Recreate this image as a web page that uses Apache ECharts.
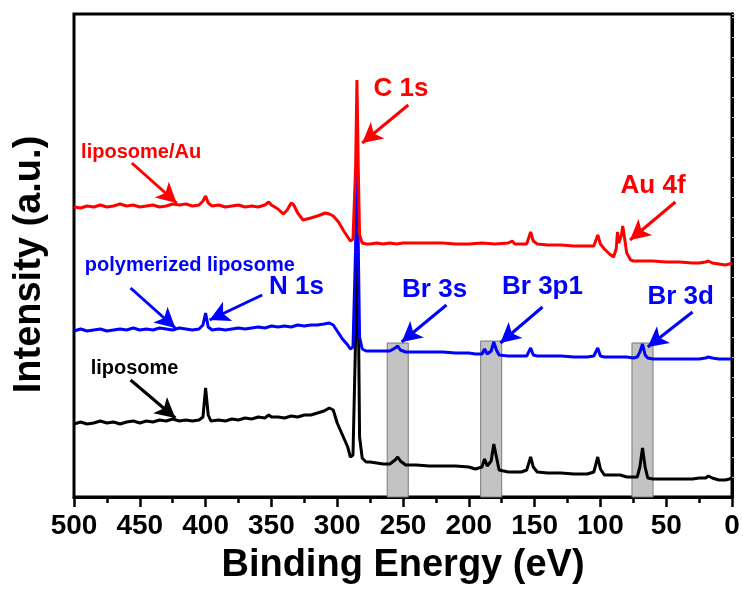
<!DOCTYPE html>
<html>
<head>
<meta charset="utf-8">
<script src="https://cdn.jsdelivr.net/npm/echarts@6/dist/echarts.min.js"></script>
<style>
  html, body { margin: 0; padding: 0; background: #fff; }
  #box { width: 743px; height: 591px; }
</style>
</head>
<body>
<div id="box"></div>
<script>
// binding energy (eV), intensity (a.u., arbitrary offset scale)
var liposome = [
  [500,73],[495,75],[490,73],[485,74],[480,76],[475,74],[470,75],[465,73],[460,75],[455,76],
  [450,74],[445,76],[440,75],[435,77],[430,76],[425,78],[420,76],[415,77],[410,76],[405,77],
  [402,80],[400,109],[398,82],[396,76],[390,77],[385,76],[380,78],[375,77],[370,79],[365,78],
  [360,80],[355,79],[352,82],[350,80],[345,80],[340,79],[335,81],[330,80],[325,82],[320,82],
  [315,84],[310,86],[306,89],[303,87],[300,74],[296,62],[292,50],[290,40],[288,42],[286,160],
  [285,327],[284,200],[283,60],[281,39],[278,35],[275,35],[270,34],[265,33],[260,33],[256,37],
  [254,40],[252,36],[248,32],[240,32],[230,31],[220,31],[210,31],[200,30],[195,28],[190,30],
  [188,38],[186,31],[183,36],[181,53],[179,40],[177,27],[170,25],[165,25],[160,25],[156,27],
  [153,40],[151,30],[148,25],[140,24],[130,24],[120,23],[110,23],[105,25],[102,40],[100,28],
  [97,22],[90,22],[85,22],[80,20],[75,20],[72,20],[70,30],[68,49],[66,30],[64,19],
  [60,18],[50,18],[40,18],[30,18],[25,19],[20,19],[18,21],[15,19],[10,17],[5,17],[2,18],[0,19]
];
var polymerized = [
  [500,166],[495,168],[490,166],[485,167],[480,168],[475,166],[470,167],[465,168],[460,167],[455,169],
  [450,167],[445,168],[440,167],[435,169],[430,168],[425,167],[420,169],[415,168],[410,167],[405,168],
  [402,172],[400,184],[398,170],[395,167],[390,168],[385,167],[380,168],[375,169],[370,168],[365,169],
  [360,170],[355,169],[350,171],[345,170],[340,171],[335,170],[330,172],[325,171],[320,172],[315,172],
  [310,173],[306,174],[303,172],[300,166],[296,158],[292,152],[290,148],[288,150],[286,250],[285,340],
  [284,250],[283,160],[281,148],[278,146],[275,146],[270,146],[265,146],[260,146],[256,149],[254,151],
  [252,147],[248,145],[240,145],[230,145],[220,145],[210,144],[200,144],[195,143],[190,143],[188,148],
  [186,143],[183,146],[181,155],[179,147],[177,142],[170,141],[165,141],[160,141],[156,141],[153,149],
  [151,142],[148,141],[140,141],[130,141],[120,140],[110,140],[105,141],[102,149],[100,141],[97,140],
  [90,140],[85,140],[80,140],[75,139],[72,140],[70,145],[68,153],[66,142],[64,139],[60,138],
  [50,138],[40,138],[30,138],[25,138],[20,139],[18,140],[15,139],[10,138],[5,138],[2,138],[0,138]
];
var liposomeAu = [
  [500,290],[495,289],[490,291],[485,290],[480,292],[475,290],[470,291],[465,293],[460,291],[455,292],
  [450,290],[445,291],[440,292],[435,290],[430,291],[425,293],[420,292],[415,293],[410,291],[405,292],
  [402,296],[400,301],[398,294],[395,291],[390,292],[385,290],[380,291],[375,292],[370,290],[365,291],
  [360,290],[355,292],[352,295],[350,292],[345,288],[341,283],[338,287],[335,294],[333,292],[330,284],
  [326,277],[320,279],[315,281],[309,284],[306,283],[303,281],[299,275],[295,266],[292,260],[290,256],
  [288,258],[286,330],[285,417],[284,330],[283,262],[281,254],[278,253],[275,253],[270,254],[265,253],
  [260,254],[255,253],[250,254],[240,254],[230,254],[220,254],[210,253],[200,253],[190,254],[180,253],
  [170,254],[167,256],[165,253],[160,253],[156,253],[153,265],[151,256],[148,253],[140,252],[130,252],
  [120,251],[110,251],[105,251],[102,262],[100,253],[97,248],[93,243],[90,240],[88,248],[87,265],
  [86,254],[84,262],[83,271],[82,262],[80,244],[77,237],[75,236],[70,236],[60,236],[50,235],
  [40,235],[30,234],[25,234],[20,235],[18,236],[15,234],[10,233],[5,232],[2,233],[0,234]
];
// Br regions (eV range, top of shaded box)
var brBands = [[262, 246, 154], [191, 175, 156], [76, 60, 154]];
// annotation text: [text, labelE, labelI, arrowFromE, arrowFromI, arrowToE, arrowToI]
var notesAu = [
  ['liposome/Au', 449, 345, 456, 334, 422, 294],
  ['C 1s', 251.5, 408, 246, 392, 281, 354],
  ['Au 4f', 60, 311, 43, 295, 77.5, 257]
];
var notesPoly = [
  ['polymerized liposome', 412, 232, 457, 209, 423, 169],
  ['N 1s', 331, 210, 357, 202, 397, 177],
  ['Br 3s', 226, 207, 217, 192, 251, 155],
  ['Br 3p1', 144, 210, 144, 190, 176, 154],
  ['Br 3d', 39, 200, 30, 185, 64, 150]
];
var notesLip = [
  ['liposome', 454, 129, 457, 117, 423, 79]
];

var FONT = "'Liberation Sans', Arial, sans-serif";

function arrows(notes, color) {
  return {
    silent: true,
    symbol: ['none', 'arrow'],
    symbolSize: [16, 20],
    label: { show: false },
    lineStyle: { color: color, width: 3, type: 'solid' },
    emphasis: { disabled: true },
    data: notes.map(function (n) {
      return [{ coord: [n[3], n[4]] }, { coord: [n[5], n[6]] }];
    })
  };
}
function labels(notes, color, bigSize, smallSize) {
  return {
    silent: true,
    symbol: 'circle',
    symbolSize: 2,
    itemStyle: { color: 'rgba(0,0,0,0)' },
    data: notes.map(function (n) {
      var big = n[0].length <= 6;
      return {
        coord: [n[1], n[2]],
        label: {
          show: true, position: 'inside', formatter: n[0],
          color: color, fontFamily: FONT, fontWeight: 'bold',
          fontSize: big ? bigSize : smallSize
        }
      };
    })
  };
}

var chart = echarts.init(document.getElementById('box'));
var option = {
  animation: false,
  backgroundColor: '#fff',
  grid: {
    left: 74, right: 11, top: 14, bottom: 94,
    show: true, borderColor: '#000', borderWidth: 3
  },
  xAxis: {
    type: 'value', inverse: true, min: 0, max: 500, interval: 50,
    name: 'Binding Energy (eV)', nameLocation: 'middle', nameGap: 50,
    nameTextStyle: { fontFamily: FONT, fontWeight: 'bold', fontSize: 38, color: '#000' },
    axisLine: { lineStyle: { color: '#000', width: 3 } },
    axisTick: { length: 10, lineStyle: { color: '#000', width: 2.5 } },
    minorTick: { show: true, splitNumber: 2, length: 6, lineStyle: { color: '#000', width: 2.5 } },
    splitLine: { show: false },
    axisLabel: { margin: 15, fontFamily: FONT, fontWeight: 'bold', fontSize: 28, color: '#000' }
  },
  yAxis: [{
    type: 'value', min: 0, max: 483, interval: 20,
    name: 'Intensity (a.u.)', nameLocation: 'middle', nameGap: 25,
    nameTextStyle: { fontFamily: FONT, fontWeight: 'bold', fontSize: 38, color: '#000', padding: [0, 18, 0, 0] },
    axisLine: { lineStyle: { color: '#000', width: 3 } },
    axisTick: { inside: true, length: 3, lineStyle: { color: '#bbb', width: 1 } },
    axisLabel: { show: false },
    splitLine: { show: false }
  }, {
    type: 'value', position: 'right', min: 0, max: 483, interval: 20,
    axisLine: { show: true, lineStyle: { color: '#000', width: 3 } },
    axisTick: { length: 3, lineStyle: { color: '#bbb', width: 1 } },
    axisLabel: { show: false },
    splitLine: { show: false }
  }],
  series: [
    {
      name: 'liposome', type: 'line', data: liposome, showSymbol: false,
      lineStyle: { color: '#000', width: 3 }, itemStyle: { color: '#000' },
      markArea: {
        silent: true,
        itemStyle: { color: '#c3c3c3', borderColor: '#7a7a7a', borderWidth: 1 },
        data: brBands.map(function (b) { return [{ coord: [b[0], 0] }, { coord: [b[1], b[2]] }]; })
      },
      markLine: arrows(notesLip, '#000'),
      markPoint: labels(notesLip, '#000', 26, 20)
    },
    {
      name: 'polymerized liposome', type: 'line', data: polymerized, showSymbol: false,
      lineStyle: { color: '#0000ff', width: 3 }, itemStyle: { color: '#0000ff' },
      markLine: arrows(notesPoly, '#0000ff'),
      markPoint: labels(notesPoly, '#0000ff', 26, 20)
    },
    {
      name: 'liposome/Au', type: 'line', data: liposomeAu, showSymbol: false,
      lineStyle: { color: '#ff0000', width: 3 }, itemStyle: { color: '#ff0000' },
      markLine: arrows(notesAu, '#ff0000'),
      markPoint: labels(notesAu, '#ff0000', 26, 20)
    }
  ]
};
chart.setOption(option);
</script>
</body>
</html>
